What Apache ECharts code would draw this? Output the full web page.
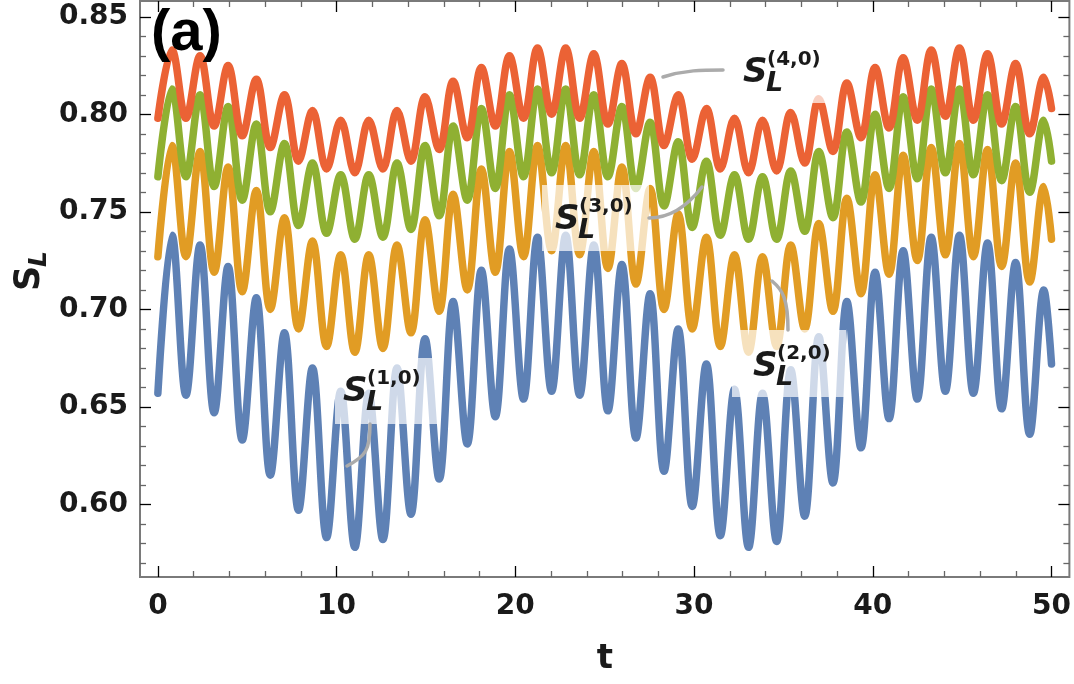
<!DOCTYPE html>
<html>
<head>
<meta charset="utf-8">
<script src="https://cdn.jsdelivr.net/npm/echarts@6/dist/echarts.min.js"></script>
<style>
html, body { margin: 0; padding: 0; background: #fff; }
#chart { width: 1074px; height: 684px; }
</style>
</head>
<body>
<div id="chart"></div>
<script>

// times of the turning points (troughs at even index, peaks at odd), plus the end point
var tKnots = [0, 0.79, 1.57, 2.36, 3.15, 3.93, 4.72, 5.51, 6.29, 7.08,
    7.87, 8.65, 9.44, 10.23, 11.02, 11.80, 12.59, 13.38, 14.16, 14.95,
    15.74, 16.52, 17.31, 18.10, 18.88, 19.67, 20.46, 21.24, 22.03, 22.82,
    23.60, 24.39, 25.18, 25.96, 26.75, 27.54, 28.32, 29.11, 29.90, 30.69,
    31.47, 32.26, 33.05, 33.83, 34.62, 35.41, 36.19, 36.98, 37.77, 38.55,
    39.34, 40.13, 40.91, 41.70, 42.49, 43.27, 44.06, 44.85, 45.63, 46.42,
    47.21, 47.99, 48.78, 49.57, 50];

var sL10 = [0.657, 0.738, 0.656, 0.733, 0.647, 0.722, 0.633, 0.706, 0.615, 0.688,
    0.597, 0.670, 0.583, 0.658, 0.578, 0.657, 0.582, 0.670, 0.595, 0.685,
    0.613, 0.704, 0.631, 0.720, 0.645, 0.731, 0.654, 0.737, 0.658, 0.738,
    0.656, 0.733, 0.648, 0.723, 0.634, 0.708, 0.617, 0.690, 0.599, 0.672,
    0.584, 0.659, 0.578, 0.657, 0.581, 0.669, 0.594, 0.686, 0.611, 0.704,
    0.629, 0.719, 0.644, 0.730, 0.654, 0.737, 0.658, 0.738, 0.657, 0.734,
    0.649, 0.724, 0.636, 0.710, 0.672];

var sL20 = [0.727, 0.784, 0.727, 0.781, 0.719, 0.773, 0.709, 0.761, 0.700, 0.747,
    0.690, 0.735, 0.681, 0.728, 0.678, 0.728, 0.680, 0.733, 0.688, 0.746,
    0.699, 0.759, 0.710, 0.772, 0.719, 0.781, 0.727, 0.784, 0.730, 0.784,
    0.728, 0.781, 0.721, 0.773, 0.713, 0.762, 0.700, 0.749, 0.690, 0.737,
    0.681, 0.728, 0.678, 0.727, 0.681, 0.733, 0.690, 0.744, 0.699, 0.757,
    0.708, 0.769, 0.718, 0.779, 0.725, 0.783, 0.728, 0.785, 0.727, 0.782,
    0.722, 0.775, 0.714, 0.763, 0.736];

var sL30 = [0.768, 0.813, 0.768, 0.810, 0.763, 0.804, 0.756, 0.795, 0.750, 0.785,
    0.743, 0.775, 0.739, 0.769, 0.736, 0.769, 0.737, 0.775, 0.741, 0.784,
    0.748, 0.794, 0.756, 0.803, 0.762, 0.810, 0.768, 0.813, 0.770, 0.813,
    0.769, 0.810, 0.768, 0.804, 0.762, 0.796, 0.753, 0.786, 0.742, 0.776,
    0.738, 0.769, 0.736, 0.768, 0.736, 0.771, 0.740, 0.781, 0.747, 0.791,
    0.755, 0.800, 0.762, 0.809, 0.767, 0.813, 0.770, 0.813, 0.769, 0.810,
    0.766, 0.804, 0.760, 0.797, 0.776];

var sL40 = [0.798, 0.833, 0.798, 0.830, 0.794, 0.825, 0.789, 0.818, 0.783, 0.810,
    0.776, 0.802, 0.772, 0.797, 0.770, 0.797, 0.772, 0.802, 0.776, 0.809,
    0.782, 0.817, 0.788, 0.824, 0.794, 0.830, 0.798, 0.834, 0.800, 0.834,
    0.798, 0.831, 0.795, 0.826, 0.790, 0.819, 0.784, 0.810, 0.777, 0.803,
    0.772, 0.798, 0.770, 0.797, 0.771, 0.801, 0.775, 0.808, 0.781, 0.816,
    0.788, 0.824, 0.793, 0.829, 0.797, 0.833, 0.799, 0.834, 0.797, 0.831,
    0.795, 0.826, 0.790, 0.819, 0.803];

var xMajor = [0, 10, 20, 30, 40, 50];
var xMinor = [2, 4, 6, 8, 12, 14, 16, 18, 22, 24, 26, 28, 32, 34, 36, 38, 42, 44, 46, 48];
var yMajor = [0.60, 0.65, 0.70, 0.75, 0.80, 0.85];
var yMinor = [0.57, 0.58, 0.59, 0.61, 0.62, 0.63, 0.64, 0.66, 0.67, 0.68, 0.69,
    0.71, 0.72, 0.73, 0.74, 0.76, 0.77, 0.78, 0.79, 0.81, 0.82, 0.83, 0.84];

var colors = ['#5E81B5', '#E19C24', '#8FB032', '#EB6235'];
var curves = [sL10, sL20, sL30, sL40];

var chart = echarts.init(document.getElementById('chart'));

var tickFont = {
    fontFamily: 'DejaVu Sans',
    fontWeight: 'bold',
    fontSize: 28,
    color: '#1a1a1a'
};

function xAxisDef(pos, values, len, color, labels) {
    return {
        type: 'value', position: pos, min: -1, max: 51,
        axisLine: { show: false, onZero: false },
        splitLine: { show: false },
        axisTick: { inside: true, length: len, customValues: values,
            lineStyle: { color: color, width: 1.3 } },
        axisLabel: labels ? Object.assign({ customValues: values, margin: 16 }, tickFont)
                          : { show: false }
    };
}

function yAxisDef(pos, values, len, color, labels) {
    return {
        type: 'value', position: pos, min: 0.5628, max: 0.8581,
        axisLine: { show: false, onZero: false },
        splitLine: { show: false },
        axisTick: { inside: true, length: len, customValues: values,
            lineStyle: { color: color, width: 1.3 } },
        axisLabel: labels ? Object.assign({
            customValues: values, margin: 12,
            formatter: function (v) { return v.toFixed(2); }
        }, tickFont) : { show: false }
    };
}

// S_L^(n,0) labels
function curveLabel(sup, x, y) {
    var txt = { fill: '#1a1a1a', fontFamily: 'DejaVu Sans', fontWeight: 'bold', verticalAlign: 'middle' };
    return [
        { type: 'text', z: 100, x: x, y: y,
          style: Object.assign({ text: 'S', fontStyle: 'italic', fontSize: 34 }, txt) },
        { type: 'text', z: 100, x: x + 23, y: y + 11,
          style: Object.assign({ text: 'L', fontStyle: 'italic', fontSize: 27 }, txt) },
        { type: 'text', z: 100, x: x + 24, y: y - 13,
          style: Object.assign({ text: sup, fontSize: 20 }, txt) }
    ];
}

function box(x, y, w, h) {
    return { type: 'rect', z: 90, shape: { x: x, y: y, width: w, height: h },
        style: { fill: 'rgba(255,255,255,0.7)' } };
}

function leader(p) {
    return { type: 'bezierCurve', z: 95,
        shape: { x1: p[0], y1: p[1], cpx1: p[2], cpy1: p[3], cpx2: p[4], cpy2: p[5], x2: p[6], y2: p[7] },
        style: { stroke: '#ababab', lineWidth: 3.5, fill: null, lineCap: 'round' } };
}

var graphics = [
    box(335, 358, 102, 66), box(732, 330, 114, 67), box(542, 185, 107, 66), box(738, 40, 88, 63),
    leader([370, 424, 370, 450, 366, 456, 347, 466]),
    leader([772, 281, 783, 290, 788, 300, 788, 330]),
    leader([649, 218, 668, 218, 686, 208, 702, 187]),
    leader([663, 77, 685, 70, 702, 70, 723, 70]),
    { type: 'text', z: 100, x: 151, y: 34,
      style: { text: '(a)', fill: '#000', fontFamily: 'Liberation Sans', fontWeight: 'bold',
               fontSize: 58, verticalAlign: 'middle' } },
    { type: 'text', z: 100, x: 605, y: 659,
      style: { text: 't', fill: '#1a1a1a', fontFamily: 'DejaVu Sans', fontWeight: 'bold',
               fontSize: 34, align: 'center', verticalAlign: 'middle' } },
    { type: 'group', x: 30, y: 291, rotation: Math.PI / 2, children: [
        { type: 'text', z: 100, x: 0, y: 0,
          style: { text: 'S', fill: '#1a1a1a', fontFamily: 'DejaVu Sans', fontWeight: 'bold',
                   fontSize: 35, verticalAlign: 'middle' } },
        { type: 'text', z: 100, x: 24, y: 9,
          style: { text: 'L', fill: '#1a1a1a', fontFamily: 'DejaVu Sans', fontWeight: 'bold',
                   fontStyle: 'italic', fontSize: 25, verticalAlign: 'middle' } }
    ] }
];
graphics = graphics.concat(curveLabel('(1,0)', 343, 392),
    curveLabel('(2,0)', 753, 367), curveLabel('(3,0)', 555, 220), curveLabel('(4,0)', 743, 73));

var option = {
    animation: false,
    backgroundColor: '#ffffff',
    grid: { left: 140, right: 1, top: 1, bottom: 107, show: true,
        borderColor: '#7a7a7a', borderWidth: 2 },
    xAxis: [
        xAxisDef('bottom', xMajor, 11, '#000', true),
        xAxisDef('bottom', xMinor, 6, '#666', false),
        xAxisDef('top', xMajor, 11, '#000', false),
        xAxisDef('top', xMinor, 6, '#666', false)
    ],
    yAxis: [
        yAxisDef('left', yMajor, 11, '#000', true),
        yAxisDef('left', yMinor, 6, '#666', false),
        yAxisDef('right', yMajor, 11, '#000', false),
        yAxisDef('right', yMinor, 6, '#666', false)
    ],
    series: curves.map(function (vals, k) {
        return {
            type: 'line',
            xAxisIndex: 0,
            yAxisIndex: 0,
            showSymbol: false,
            smooth: 0.36,
            data: tKnots.map(function (t, i) { return [t, vals[i]]; }),
            lineStyle: { color: colors[k], width: 7.5, cap: 'round', join: 'round' },
            itemStyle: { color: colors[k] }
        };
    }),
    graphic: graphics
};

chart.setOption(option);

</script>
</body>
</html>
